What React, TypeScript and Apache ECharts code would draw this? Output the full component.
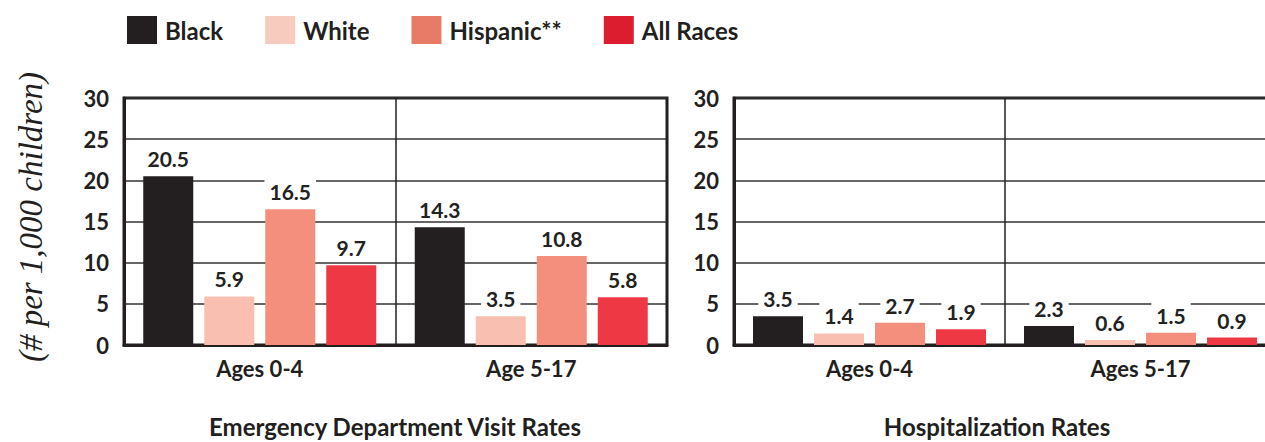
import React, { useEffect, useRef } from "react";
import * as echarts from "echarts";

const races = ["Black", "White", "Hispanic**", "All Races"];
const barColors = ["#231f20", "#f9c0b1", "#f48f7d", "#ee3843"];
const legendColors = ["#231f20", "#f7cbbd", "#e87b68", "#dc1c2f"];

const edCategories = ["Ages 0-4", "Age 5-17"];
const hospCategories = ["Ages 0-4", "Ages 5-17"];

const edBlack = [20.5, 14.3];
const edWhite = [5.9, 3.5];
const edHispanic = [16.5, 10.8];
const edAll = [9.7, 5.8];

const hospBlack = [3.5, 2.3];
const hospWhite = [1.4, 0.6];
const hospHispanic = [2.7, 1.5];
const hospAll = [1.9, 0.9];

const yTicks = [0, 5, 10, 15, 20, 25, 30];

const FONT = "Lato, 'Open Sans', sans-serif";

export default function App() {
  const ref = useRef<HTMLDivElement>(null);
  useEffect(() => {
    if (!ref.current) return;
    const chart = echarts.init(ref.current, null, { renderer: "svg" });
    const edData = [edBlack, edWhite, edHispanic, edAll];
    const hospData = [hospBlack, hospWhite, hospHispanic, hospAll];

    const makeSeries = (data: number[][], gi: number) =>
      data.map((vals, i) => ({
        type: "bar",
        name: races[i],
        xAxisIndex: gi,
        yAxisIndex: gi,
        data: vals,
        barWidth: 50,
        barGap: "22%",
        itemStyle: { color: barColors[i] },
        label: {
          show: true,
          position: "top",
          distance: 7,
          fontFamily: FONT,
          fontWeight: "bold",
          fontSize: 21,
          color: "#222",
          backgroundColor: "#fff",
          padding: [3, 5, 0, 5],
          formatter: (p: any) => p.value.toFixed(1),
        },
      }));

    const yAxis = (gi: number) => ({
      type: "value",
      gridIndex: gi,
      min: yTicks[0],
      max: yTicks[yTicks.length - 1],
      interval: 5,
      axisLine: { show: true, lineStyle: { color: "#231f20", width: 3 } },
      axisTick: { show: false },
      axisLabel: {
        margin: 15,
        fontFamily: FONT,
        fontWeight: "bold",
        fontSize: 22,
        color: "#231f20",
      },
      splitLine: { show: true, lineStyle: { color: "#333", width: 1.5 } },
    });

    const xAxis = (gi: number, cats: string[]) => ({
      type: "category",
      gridIndex: gi,
      data: cats,
      axisLine: { show: true, lineStyle: { color: "#231f20", width: 3 } },
      axisTick: { show: false },
      axisLabel: {
        margin: 12,
        fontFamily: FONT,
        fontWeight: "bold",
        fontSize: 22,
        color: "#231f20",
      },
      splitLine: { show: true, lineStyle: { color: "#231f20", width: 1.5 } },
    });

    chart.setOption({
      animation: false,
      backgroundColor: "#fff",
      legend: {
        left: 127,
        top: 16,
        padding: 0,
        itemWidth: 30,
        itemHeight: 28,
        itemGap: 42,
        icon: "rect",
        data: races.map((r, i) => ({ name: r, itemStyle: { color: legendColors[i] } })),
        textStyle: {
          fontFamily: FONT,
          fontWeight: "bold",
          fontSize: 24,
          color: "#231f20",
          padding: [0, 0, 0, 3],
        },
      },
      title: [
        {
          text: "Emergency Department Visit Rates",
          left: 395,
          top: 414,
          padding: 0,
          textAlign: "center",
          textStyle: { fontFamily: FONT, fontWeight: "bold", fontSize: 24, color: "#231f20" },
        },
        {
          text: "Hospitalization Rates",
          left: 997,
          top: 414,
          padding: 0,
          textAlign: "center",
          textStyle: { fontFamily: FONT, fontWeight: "bold", fontSize: 24, color: "#231f20" },
        },
      ],
      grid: [
        { left: 124, top: 98, width: 543, height: 247, show: true, borderColor: "#231f20", borderWidth: 3, backgroundColor: "transparent" },
        { left: 734, top: 98, width: 542, height: 247, show: true, borderColor: "#231f20", borderWidth: 3, backgroundColor: "transparent" },
      ],
      xAxis: [xAxis(0, edCategories), xAxis(1, hospCategories)],
      yAxis: [yAxis(0), yAxis(1)],
      series: [...makeSeries(edData, 0), ...makeSeries(hospData, 1)],
      graphic: [
        {
          type: "text",
          x: 31,
          y: 217,
          rotation: Math.PI / 2,
          style: {
            text: "(# per 1,000 children)",
            fontFamily: "'Liberation Serif', 'DejaVu Serif', serif",
            fontStyle: "italic",
            fontSize: 33,
            fill: "#231f20",
            textAlign: "center",
            textVerticalAlign: "middle",
          },
        },
      ],
    });
    return () => chart.dispose();
  }, []);
  return (
    <div
      style={{
        position: "fixed",
        left: 0,
        top: 0,
        width: 1265,
        height: 442,
        overflow: "hidden",
        background: "#fff",
      }}
    >
      <div ref={ref} style={{ width: 1300, height: 442 }} />
    </div>
  );
}
